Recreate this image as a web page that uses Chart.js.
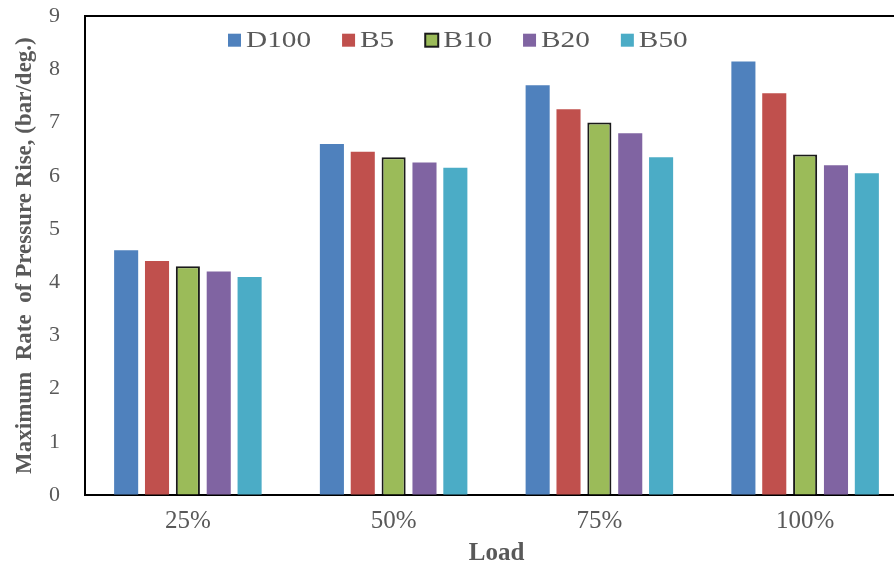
<!DOCTYPE html>
<html>
<head>
<meta charset="utf-8">
<script src="https://cdn.jsdelivr.net/npm/chart.js@4/dist/chart.umd.min.js"></script>
<style>
  html, body { margin: 0; padding: 0; background: #fff; overflow: hidden; }
  #wrap { position: relative; width: 908px; height: 569px; }
</style>
</head>
<body>
<div id="wrap"><canvas id="chart"></canvas></div>
<script>
// ── Data ────────────────────────────────────────────────────────────────────
const loads  = ['25%', '50%', '75%', '100%'];
const d100   = [4.6, 6.6, 7.7, 8.15];
const b5     = [4.4, 6.45, 7.25, 7.55];
const b10    = [4.3, 6.35, 7.0, 6.4];
const b20    = [4.2, 6.25, 6.8, 6.2];
const b50    = [4.1, 6.15, 6.35, 6.05];
const yTicks = [0, 1, 2, 3, 4, 5, 6, 7, 8, 9];

const SERIF = "'Liberation Serif', 'Times New Roman', serif";
const GREY  = '#595959';

function barSet(label, data, color, border = null) {
  return {
    label,
    data,
    backgroundColor: color,
    borderColor    : border || color,
    borderWidth    : border ? 2 : 0,
    barPercentage  : 0.78,
    categoryPercentage: 0.75,
  };
}

// ── Legend drawn inside the plot area, one row near the top ────────────────
const insideLegend = {
  id: 'insideLegend',
  afterDraw(chart) {
    const { ctx, chartArea } = chart;
    const font = `24px ${SERIF}`;
    const stretch = 1.22;     // the source glyphs are wide
    const box = 13, gapBox = 5, gapItem = 31;
    let x = chartArea.left + 143;
    const y = chartArea.top + 24;
    ctx.save();
    ctx.font = font;
    ctx.textBaseline = 'middle';
    chart.data.datasets.forEach(ds => {
      ctx.fillStyle = ds.backgroundColor;
      ctx.fillRect(x, y - box / 2, box, box);
      if (ds.borderWidth) {
        ctx.strokeStyle = ds.borderColor;
        ctx.lineWidth = 2;
        ctx.strokeRect(x, y - box / 2, box, box);
      }
      x += box + gapBox;
      const w = ctx.measureText(ds.label).width * stretch;
      ctx.save();
      ctx.translate(x, y);
      ctx.scale(stretch, 1);
      ctx.fillStyle = GREY;
      ctx.fillText(ds.label, 0, 1);
      ctx.restore();
      x += w + gapItem;
    });
    ctx.restore();
  },
};

new Chart(document.getElementById('chart'), {
  type: 'bar',
  data: {
    labels: loads,
    datasets: [
      barSet('D100', d100, '#4F81BD'),
      barSet('B5',   b5,   '#C0504D'),
      barSet('B10',  b10,  '#9BBB59', '#1a1a1a'),
      barSet('B20',  b20,  '#8064A2'),
      barSet('B50',  b50,  '#4BACC6'),
    ],
  },
  plugins: [insideLegend],
  options: {
    responsive: true,
    maintainAspectRatio: false,
    animation: false,
    layout: { padding: 0 },
    plugins: {
      legend: { display: false },
      tooltip: { enabled: false },
    },
    scales: {
      x: {
        grid: { display: false },
        border: { color: '#000', width: 2 },
        ticks: { color: GREY, padding: 3, font: { family: SERIF, size: 25 } },
        title: { display: true, text: 'Load', color: GREY, padding: { top: 4, bottom: 0 },
                 font: { family: SERIF, size: 25, weight: 'bold' } },
        afterFit: s => { s.height = 74; },
      },
      xTop: {
        position: 'top',
        grid: { display: false },
        border: { color: '#000', width: 2 },
        ticks: { display: false },
        afterFit: s => { s.height = 0; },
      },
      y: {
        min: 0,
        max: 9,
        afterBuildTicks: s => { s.ticks = yTicks.map(v => ({ value: v })); },
        // invisible tick marks push the labels away from the axis line
        grid: { display: true, drawOnChartArea: false, drawTicks: true, tickLength: 22,
                tickColor: 'rgba(0,0,0,0)' },
        border: { color: '#000', width: 2 },
        ticks: { color: GREY, padding: 3, font: { family: SERIF, size: 22 } },
        title: { display: true, text: 'Maximum  Rate  of Pressure Rise, (bar/deg.)', color: GREY,
                 padding: { top: 11, bottom: 0 }, font: { family: SERIF, size: 23, weight: 'bold' } },
        afterFit: s => { s.width = 85; },
      },
    },
  },
});
</script>
</body>
</html>
